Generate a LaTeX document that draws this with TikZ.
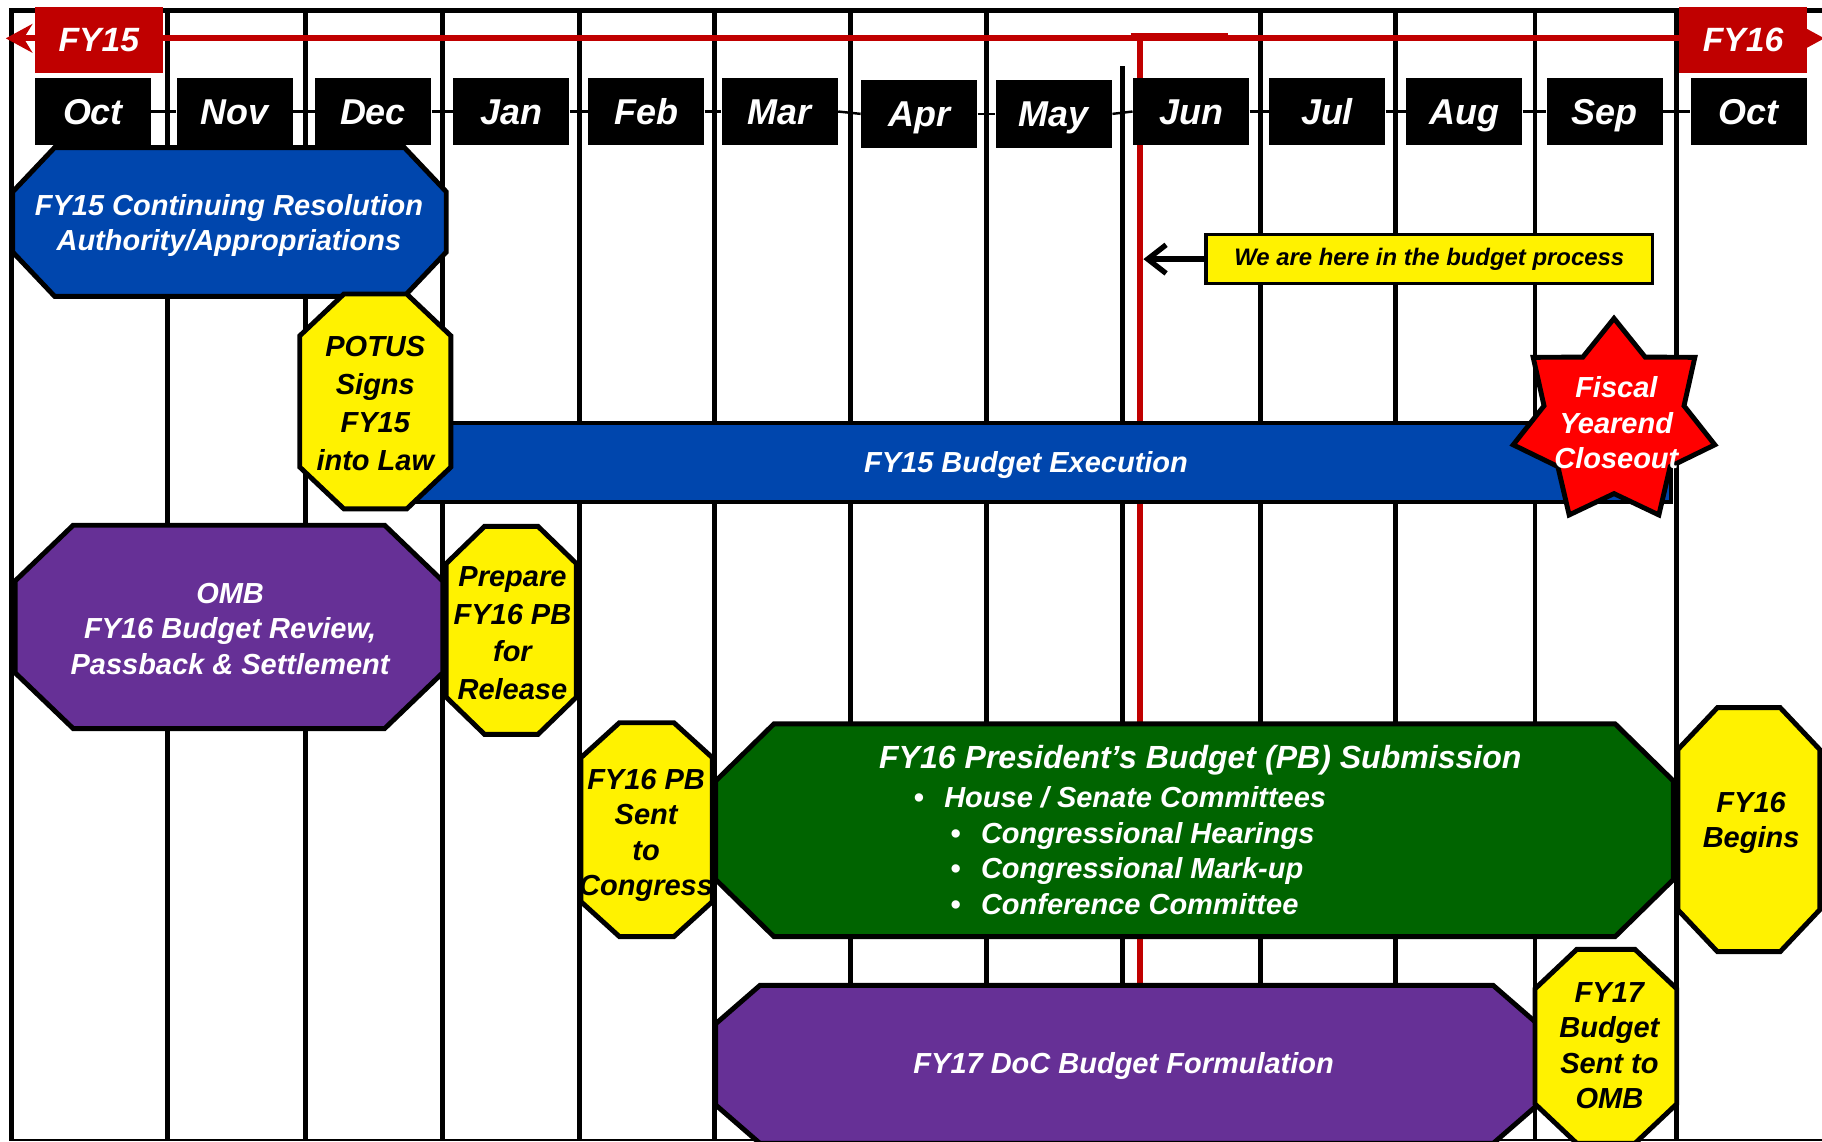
\documentclass[tikz,border=0pt]{standalone}
\usepackage{fontspec}
\setmainfont{Liberation Sans}
\usetikzlibrary{arrows.meta,shapes.geometric}

\definecolor{fyred}{RGB}{192,0,0}
\definecolor{crblue}{RGB}{0,70,173}
\definecolor{ombpurple}{RGB}{102,48,150}
\definecolor{pbgreen}{RGB}{0,100,0}

\newcommand{\bi}[2]{\bfseries\itshape\fontsize{#1}{#2}\selectfont}
% octagon: fill, left, top, right, bottom, cut x, cut y
\newcommand{\octbox}[7]{%
  \draw[edge, fill=#1] (#2+#6,#3) -- (#4-#6,#3) -- (#4,#3+#7) -- (#4,#5-#7)
    -- (#4-#6,#5) -- (#2+#6,#5) -- (#2,#5-#7) -- (#2,#3+#7) -- cycle;}

\begin{document}
\begin{tikzpicture}[x=0.02cm, y=-0.02cm,
    grid/.style={line width=2.4pt},
    edge/.style={draw, line width=2.4pt},
    month/.style={fill=black, text=white, minimum width=2cm, minimum height=1.16cm,
      inner sep=0pt, text height=12.6pt, text depth=0pt, font=\bi{17.6}{20}},
    fybox/.style={fill=fyred, text=white, minimum width=2.2cm, minimum height=1.14cm,
      inner sep=0pt, font=\bi{16.5}{19}},
    wtext/.style={align=center, text=white, inner sep=0pt, font=\bi{14.2}{17.4}},
    btext/.style={align=center, text=black, inner sep=0pt, font=\bi{14.2}{17.4}}]
  \useasboundingbox (0,0) rectangle (1568,982);

  % month grid
  \foreach \x in {144,263,381,499,615,732,849,1085,1201,1321,1443}
    \draw[grid] (\x,9) -- (\x,982);
  \draw[grid] (966,57) -- (966,982);
  \draw[grid] (10,982) -- (10,9) -- (1568,9);
  \draw[line width=1pt] (10,981) -- (1568,981);

  % fiscal year line and today marker
  \coordinate (fyL) at (5,33);
  \coordinate (fyR) at (1570,33);
  \draw[fyred, line width=2.8pt, {Stealth[length=13pt,width=14pt]}-{Stealth[length=13pt,width=14pt]}] (fyL) -- (fyR);
  \coordinate (now) at (981,31);
  \draw[fyred, line width=2.6pt] (973,31) -- (1057,31);
  \draw[fyred, line width=2.6pt] (now) -- (981,848);

  % months
  \foreach \x/\y/\m [count=\i] in {80/96/Oct, 202/96/Nov, 321/96/Dec, 440/96/Jan,
      556/96/Feb, 671/96/Mar, 791/98/Apr, 907/98/May, 1025/96/Jun, 1142/96/Jul,
      1260/96/Aug, 1381/96/Sep, 1505/96/Oct}
    \node[month] (m\i) at (\x,\y) {\m};
  \foreach \i [evaluate=\i as \j using int(\i+1)] in {1,...,12}
    \draw[line width=1.2pt] (m\i.east) -- (m\j.west);

  \node[fybox] (fy15) at (85,34.5) {FY15};
  \node[fybox] (fy16) at (1500,34.5) {FY16};

  % FY15 row
  \octbox{crblue}{11}{127}{384}{255}{36}{38}
  \node[wtext] (cr) at (197,194) {FY15 Continuing Resolution\\Authority/Appropriations};

  \node[draw, line width=1.7pt, fill=yellow, minimum width=7.68cm, minimum height=0.84cm,
    inner sep=0pt, font=\bi{11.7}{14}] (here) at (1230,223) {We are here in the budget process};
  \coordinate (nowtip) at (984,223);
  \draw[line width=2.6pt, -{Straight Barb[length=9pt,width=14pt,line width=2.6pt]}] (here) -- (nowtip);

  \draw[edge, fill=crblue] (330,364) rectangle (1438,432);
  \node[wtext] (exec) at (883,400) {FY15 Budget Execution};
  \octbox{yellow}{258}{253}{388}{438}{38}{36}
  \node[btext, font=\bi{14.2}{18.6}] (potus) at (323,347) {POTUS\\Signs\\FY15\\into Law};
  \node[star, star points=7, star point ratio=1.44, minimum size=3.56cm, inner sep=0pt,
    draw, line width=2.4pt, fill=red] (close) at (1389,363) {};
  \node[wtext] (closet) at (1391,364) {Fiscal\\Yearend\\Closeout};

  % FY16 row
  \octbox{ombpurple}{13}{452}{381}{627}{50}{48}
  \node[wtext] (omb) at (198,541) {OMB\\FY16 Budget Review,\\Passback \& Settlement};
  \octbox{yellow}{384}{453}{496}{632}{33}{32}
  \node[btext, font=\bi{14.2}{18.4}] (prep) at (441,545) {Prepare\\FY16 PB\\for\\Release};
  \octbox{yellow}{500}{622}{613}{806}{33}{30}
  \node[btext] (sent) at (556,719) {FY16 PB\\Sent\\to\\Congress};
  \octbox{pbgreen}{616}{623}{1440}{806}{50}{49}
  \node[wtext, font=\bi{15.7}{18}] (pbt) at (1033,654) {FY16 President’s Budget (PB) Submission};
  \node[wtext, align=left, anchor=west] (pbl) at (786,732) {•\hspace{10pt}House / Senate Committees\\
    \hspace*{18pt}•\hspace{10pt}Congressional Hearings\\
    \hspace*{18pt}•\hspace{10pt}Congressional Mark-up\\
    \hspace*{18pt}•\hspace{10pt}Conference Committee};
  \octbox{yellow}{1444}{609}{1566}{819}{34}{36}
  \node[btext] (begins) at (1507,708) {FY16\\Begins};

  % FY17 row
  \octbox{ombpurple}{616}{848}{1323}{984}{38}{33}
  \node[wtext] (doc) at (967,917) {FY17 DoC Budget Formulation};
  \octbox{yellow}{1321}{817}{1443}{984}{36}{34}
  \node[btext] (omb17) at (1385,900) {FY17\\Budget\\Sent to\\OMB};
\end{tikzpicture}
\end{document}
